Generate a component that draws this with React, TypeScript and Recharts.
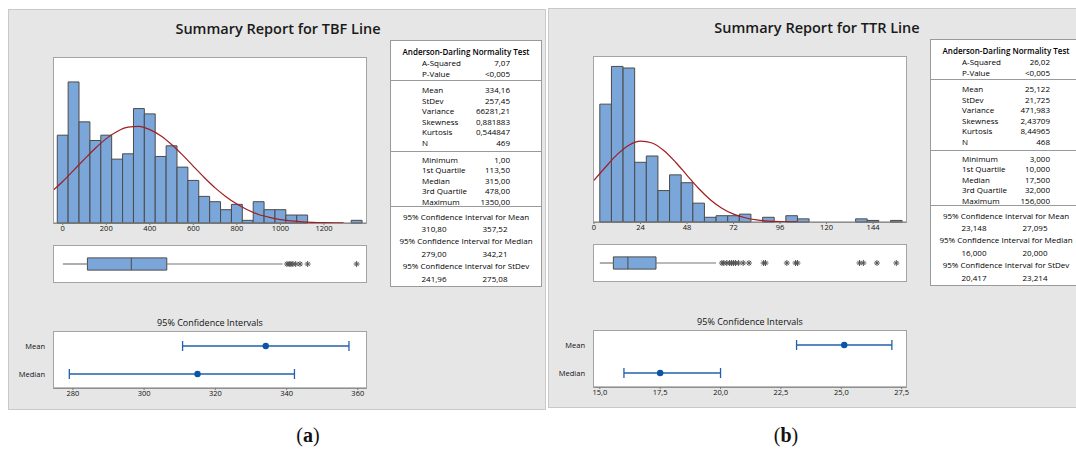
import {
  Bar,
  ComposedChart,
  ErrorBar,
  Line,
  LineChart,
  ReferenceArea,
  ReferenceLine,
  Scatter,
  XAxis,
  YAxis,
} from "recharts"

// ---- (a) TBF line ----
const tbfBins = [0, 50, 100, 150, 200, 250, 300, 350, 400, 450, 500, 550, 600, 650, 700, 750, 800, 850, 900, 950, 1000, 1050, 1100, 1150, 1200, 1250, 1300, 1350]
const tbfCounts = [33, 53, 38, 31, 33, 24, 26, 43, 41, 25, 29, 21, 16, 10, 8, 5, 7, 1, 8, 5, 5, 3, 3, 0, 0, 0, 0, 1]
const tbfCurveX = [-40, 0, 50, 100, 150, 200, 250, 300, 350, 400, 450, 500, 550, 600, 650, 700, 750, 800, 850, 900, 950, 1000, 1050, 1100, 1150, 1200, 1250, 1290]
const tbfCurveY = [12.6, 15.6, 19.8, 24.0, 28.1, 31.7, 34.4, 36.0, 36.3, 35.1, 32.8, 29.5, 25.6, 21.3, 17.1, 13.2, 9.9, 7.1, 4.9, 3.2, 2.1, 1.3, 0.8, 0.43, 0.24, 0.13, 0.06, 0.03]
const tbfTicks = [0, 200, 400, 600, 800, 1000, 1200]
const tbfBox = [1, 113.5, 315, 478, 1010] // whisker low, Q1, median, Q3, whisker high
const tbfOutliers = [1030, 1040, 1048, 1057, 1070, 1090, 1125, 1350]
const tbfCiCenter = [334.16, 315.0]
const tbfCiLow = [310.8, 279.0]
const tbfCiHigh = [357.52, 342.21]
const tbfCiTicks = [280, 300, 320, 340, 360]
const tbfCiTickLabels = ["280", "300", "320", "340", "360"]
const tbfAd = ["7,07", "<0,005"]
const tbfDesc = ["334,16", "257,45", "66281,21", "0,881883", "0,544847", "469"]
const tbfQuant = ["1,00", "113,50", "315,00", "478,00", "1350,00"]
const tbfCi = [["310,80", "357,52"], ["279,00", "342,21"], ["241,96", "275,08"]]

// ---- (b) TTR line ----
const ttrBins = [6, 12, 18, 24, 30, 36, 42, 48, 54, 60, 66, 72, 78, 84, 90, 96, 102, 108, 114, 120, 126, 132, 138, 144, 150, 156]
const ttrCounts = [75, 99, 98, 38, 42, 20, 30, 25, 12, 3, 4, 4, 5, 0, 3, 0, 4, 2, 0, 0, 0, 0, 2, 1, 0, 1]
const ttrCurveX = [0, 6, 12, 18, 24, 30, 36, 42, 48, 54, 60, 66, 72, 78, 84, 90, 96, 102, 105]
const ttrCurveY = [26.5, 35.0, 43.0, 48.9, 51.5, 50.3, 45.5, 38.2, 29.7, 21.3, 14.2, 8.8, 5.0, 2.7, 1.3, 0.6, 0.25, 0.1, 0.06]
const ttrTicks = [0, 24, 48, 72, 96, 120, 144]
const ttrBox = [3, 10, 17.5, 32, 63]
const ttrOutliers = [66, 67, 68.5, 70, 71, 72, 73, 74.5, 77, 80, 87.5, 88.5, 99.5, 104, 105, 137, 139, 146, 156]
const ttrCiCenter = [25.122, 17.5]
const ttrCiLow = [23.148, 16.0]
const ttrCiHigh = [27.095, 20.0]
const ttrCiTicks = [15, 17.5, 20, 22.5, 25, 27.5]
const ttrCiTickLabels = ["15,0", "17,5", "20,0", "22,5", "25,0", "27,5"]
const ttrAd = ["26,02", "<0,005"]
const ttrDesc = ["25,122", "21,725", "471,983", "2,43709", "8,44965", "468"]
const ttrQuant = ["3,000", "10,000", "17,500", "32,000", "156,000"]
const ttrCi = [["23,148", "27,095"], ["16,000", "20,000"], ["20,417", "23,214"]]

const ciNames = ["Mean", "Median"]
const adLabels = ["A-Squared", "P-Value"]
const descLabels = ["Mean", "StDev", "Variance", "Skewness", "Kurtosis", "N"]
const quantLabels = ["Minimum", "1st Quartile", "Median", "3rd Quartile", "Maximum"]
const ciTitles = [
  "95% Confidence Interval for Mean",
  "95% Confidence Interval for Median",
  "95% Confidence Interval for StDev",
]

const FONT = "'Open Sans', 'Noto Sans', sans-serif"
const BAR_FILL = "#7ba6da"
const BAR_STROKE = "#4b4b4b"
const FRAME = "#a4a4a4"
const PLOT_W = 312
const HIST_H = 165
const BOX_H = 36
const CI_H = 56
const CI_YW = 50
const PAD = 14 // room for edge tick labels

const tickStyle = { fontSize: 7.5, fill: "#111", fontFamily: FONT, fontWeight: 500 }

function Asterisk(props: any) {
  const { cx, cy } = props
  const r = 3
  const d = r * 0.7
  return (
    <g stroke="#555" strokeWidth={1}>
      <line x1={cx - r} y1={cy} x2={cx + r} y2={cy} />
      <line x1={cx} y1={cy - r} x2={cx} y2={cy + r} />
      <line x1={cx - d} y1={cy - d} x2={cx + d} y2={cy + d} />
      <line x1={cx - d} y1={cy + d} x2={cx + d} y2={cy - d} />
    </g>
  )
}

function CiDot(props: any) {
  return <circle cx={props.cx} cy={props.cy} r={3.2} fill="#0b55a5" />
}

const frameStyle = (left: number, top: number, w: number, h: number) => ({
  position: "absolute" as const,
  left: left - 1,
  top: top - 1,
  width: w,
  height: h,
  background: "#fff",
  border: `1px solid ${FRAME}`,
})

function Histogram({ cfg }: { cfg: any }) {
  const barData = cfg.bins.map((x: number, i: number) => ({ x, count: cfg.counts[i] }))
  const curveData = cfg.curveX.map((x: number, i: number) => ({ x, y: cfg.curveY[i] }))
  const barPx = (PLOT_W * cfg.binWidth) / (cfg.xDomain[1] - cfg.xDomain[0]) - 0.03
  const m = { top: 0, right: PAD, bottom: 0, left: PAD }
  return (
    <div style={{ position: "absolute", left: 45, top: 48 }}>
      <div style={frameStyle(0, 0, PLOT_W, HIST_H)} />
      <div style={{ position: "absolute", left: -PAD, top: 0 }}>
        <ComposedChart width={PLOT_W + 2 * PAD} height={HIST_H + 16} data={barData} margin={m}>
          <XAxis
            dataKey="x"
            type="number"
            domain={cfg.xDomain}
            ticks={cfg.xTicks}
            height={16}
            stroke="#7a7a7a"
            tickSize={2}
            tickMargin={1}
            tick={tickStyle}
            interval={0}
          />
          <YAxis hide domain={[0, cfg.yMax]} />
          <Bar dataKey="count" fill={BAR_FILL} stroke={BAR_STROKE} strokeWidth={1} barSize={barPx} isAnimationActive={false} />
        </ComposedChart>
      </div>
      <div style={{ position: "absolute", left: -PAD, top: 0 }}>
        <LineChart width={PLOT_W + 2 * PAD} height={HIST_H} data={curveData} margin={m}>
          <XAxis hide dataKey="x" type="number" domain={cfg.xDomain} />
          <YAxis hide domain={[0, cfg.yMax]} />
          <Line dataKey="y" type="monotone" stroke="#a01e22" strokeWidth={1.2} dot={false} isAnimationActive={false} />
        </LineChart>
      </div>
    </div>
  )
}

function BoxPlot({ cfg }: { cfg: any }) {
  const b = cfg.box
  const outlierData = cfg.outliers.map((x: number) => ({ x, y: 0.5 }))
  return (
    <div style={{ position: "absolute", left: 45, top: 236 }}>
      <div style={frameStyle(0, 0, PLOT_W, BOX_H)} />
      <div style={{ position: "absolute", left: 0, top: 0 }}>
        <ComposedChart width={PLOT_W} height={BOX_H} data={outlierData} margin={{ top: 0, right: 0, bottom: 0, left: 0 }}>
          <XAxis hide dataKey="x" type="number" domain={cfg.xDomain} />
          <YAxis hide dataKey="y" type="number" domain={[0, 1]} />
          <ReferenceLine segment={[{ x: b[0], y: 0.5 }, { x: b[1], y: 0.5 }]} stroke="#777" strokeWidth={1.2} />
          <ReferenceLine segment={[{ x: b[3], y: 0.5 }, { x: b[4], y: 0.5 }]} stroke="#777" strokeWidth={1.2} />
          <ReferenceArea x1={b[1]} x2={b[3]} y1={0.33} y2={0.67} fill={BAR_FILL} fillOpacity={1} stroke={BAR_STROKE} strokeWidth={1} />
          <ReferenceLine segment={[{ x: b[2], y: 0.33 }, { x: b[2], y: 0.67 }]} stroke={BAR_STROKE} strokeWidth={1} />
          <Scatter data={outlierData} dataKey="y" shape={Asterisk} isAnimationActive={false} />
        </ComposedChart>
      </div>
    </div>
  )
}

function CiChart({ cfg }: { cfg: any }) {
  // rows from top: Mean then Median, on a numeric 0..n axis
  const n = ciNames.length
  const data = ciNames.map((name, i) => ({
    name,
    row: n - i - 0.5,
    v: cfg.ciCenter[i],
    err: [cfg.ciCenter[i] - cfg.ciLow[i], cfg.ciHigh[i] - cfg.ciCenter[i]],
  }))
  const rowTicks = data.map((d) => d.row)
  return (
    <>
      <div
        style={{
          position: "absolute",
          left: 45,
          width: PLOT_W,
          top: 306,
          textAlign: "center",
          fontSize: 9,
          fontFamily: FONT,
          fontWeight: 500,
          color: "#111",
          lineHeight: "14px",
        }}
      >
        95% Confidence Intervals
      </div>
      <div style={{ position: "absolute", left: 45 - CI_YW, top: 322 }}>
        <div style={frameStyle(CI_YW, 0, PLOT_W, CI_H)} />
        <div style={{ position: "absolute", left: 0, top: 0 }}>
          <ComposedChart
            width={CI_YW + PLOT_W + PAD}
            height={CI_H + 16}
            data={data}
            margin={{ top: 0, right: PAD, bottom: 0, left: 0 }}
          >
            <XAxis
              dataKey="v"
              type="number"
              domain={cfg.ciDomain}
              ticks={cfg.ciTicks}
              tickFormatter={(v: number) => cfg.ciTickLabels[cfg.ciTicks.indexOf(v)]}
              height={16}
              stroke="#7a7a7a"
              tickSize={2}
              tickMargin={1}
              tick={tickStyle}
              interval={0}
              allowDataOverflow
            />
            <YAxis
              dataKey="row"
              type="number"
              domain={[0, n]}
              ticks={rowTicks}
              tickFormatter={(v: number) => data.find((d) => d.row === v)?.name ?? ""}
              width={CI_YW}
              axisLine={false}
              tickLine={false}
              tickMargin={3}
              tick={tickStyle}
              interval={0}
            />
            <Scatter dataKey="v" shape={CiDot} isAnimationActive={false}>
              <ErrorBar dataKey="err" direction="x" width={5} stroke="#2260ad" strokeWidth={1.3} />
            </Scatter>
          </ComposedChart>
        </div>
      </div>
    </>
  )
}

function StatsTable({ cfg }: { cfg: any }) {
  const text = {
    position: "absolute" as const,
    fontFamily: FONT,
    fontSize: 8,
    fontWeight: 500,
    color: "#000",
    lineHeight: "11px",
    whiteSpace: "nowrap" as const,
  }
  const row = (y: number, label: string, value: string, key: string) => (
    <div key={key}>
      <div style={{ ...text, left: 31, top: y - 5.5 }}>{label}</div>
      <div style={{ ...text, right: 31, top: y - 5.5, textAlign: "right" }}>{value}</div>
    </div>
  )
  const centered = (y: number, s: string, key: string, bold = false) => (
    <div key={key} style={{ ...text, left: 0, width: "100%", textAlign: "center", top: y - 5.5, fontWeight: bold ? 600 : 500 }}>
      {s}
    </div>
  )
  const sep = (y: number) => <div style={{ position: "absolute", left: 0, right: 0, top: y, height: 1, background: "#9a9a9a" }} />
  return (
    <div
      style={{
        position: "absolute",
        left: 381,
        top: 30,
        width: cfg.tableW,
        height: 247,
        background: "#fff",
        border: "1px solid #9a9a9a",
        boxSizing: "border-box",
      }}
    >
      {centered(10, "Anderson-Darling Normality Test", "hd", true)}
      {adLabels.map((l, i) => row(21.5 + i * 11, l, cfg.ad[i], "ad" + i))}
      {sep(39)}
      {descLabels.map((l, i) => row(48.5 + i * 10.6, l, cfg.desc[i], "ds" + i))}
      {sep(110)}
      {quantLabels.map((l, i) => row(118 + i * 10.6, l, cfg.quant[i], "q" + i))}
      {sep(165)}
      {ciTitles.map((t, i) => (
        <div key={"ci" + i}>
          {centered(175 + i * 24.8, t, "ct" + i)}
          <div style={{ ...text, left: 43 - 30, width: 60, textAlign: "center", top: 187.5 + i * 24.8 - 5.5 }}>{cfg.ci[i][0]}</div>
          <div style={{ ...text, left: 104 - 30, width: 60, textAlign: "center", top: 187.5 + i * 24.8 - 5.5 }}>{cfg.ci[i][1]}</div>
        </div>
      ))}
    </div>
  )
}

function SummaryPanel({ cfg }: { cfg: any }) {
  return (
    <div
      style={{
        position: "absolute",
        left: cfg.left,
        top: cfg.top,
        width: cfg.width,
        height: cfg.height,
        background: "#e6e6e6",
        border: "1px solid #c9c9c9",
        boxSizing: "border-box",
      }}
    >
      <div
        style={{
          position: "absolute",
          left: 0,
          width: cfg.titleW,
          top: 9,
          textAlign: "center",
          fontFamily: FONT,
          fontSize: 14.5,
          fontWeight: 600,
          color: "#1a1a1a",
          lineHeight: "20px",
        }}
      >
        {cfg.title}
      </div>
      <Histogram cfg={cfg} />
      <BoxPlot cfg={cfg} />
      <CiChart cfg={cfg} />
      <StatsTable cfg={cfg} />
    </div>
  )
}

const panelA = {
  left: 8, top: 9, width: 538, height: 401, titleW: 538, tableW: 152,
  title: "Summary Report for TBF Line",
  bins: tbfBins, counts: tbfCounts, binWidth: 50, curveX: tbfCurveX, curveY: tbfCurveY,
  xDomain: [-40, 1393], yMax: 62, xTicks: tbfTicks,
  box: tbfBox, outliers: tbfOutliers,
  ciCenter: tbfCiCenter, ciLow: tbfCiLow, ciHigh: tbfCiHigh,
  ciDomain: [274.7, 362.3], ciTicks: tbfCiTicks, ciTickLabels: tbfCiTickLabels,
  ad: tbfAd, desc: tbfDesc, quant: tbfQuant, ci: tbfCi,
}

const panelB = {
  left: 548, top: 8, width: 540, height: 400, titleW: 536, tableW: 152,
  title: "Summary Report for TTR Line",
  bins: ttrBins, counts: ttrCounts, binWidth: 6, curveX: ttrCurveX, curveY: ttrCurveY,
  xDomain: [0, 161], yMax: 105, xTicks: ttrTicks,
  box: ttrBox, outliers: ttrOutliers,
  ciCenter: ttrCiCenter, ciLow: ttrCiLow, ciHigh: ttrCiHigh,
  ciDomain: [14.76, 27.68], ciTicks: ttrCiTicks, ciTickLabels: ttrCiTickLabels,
  ad: ttrAd, desc: ttrDesc, quant: ttrQuant, ci: ttrCi,
}

const captionStyle = {
  position: "absolute" as const,
  top: 422,
  width: 40,
  textAlign: "center" as const,
  fontFamily: "'Liberation Serif', 'DejaVu Serif', serif",
  fontSize: 20,
  lineHeight: "26px",
  color: "#111",
}

export default function App() {
  return (
    <div style={{ position: "absolute", left: 0, top: 0, width: 1076, height: 451, background: "#fff", overflow: "hidden" }}>
      <SummaryPanel cfg={panelA} />
      <SummaryPanel cfg={panelB} />
      <div style={{ ...captionStyle, left: 288 }}>
        (<b>a</b>)
      </div>
      <div style={{ ...captionStyle, left: 766 }}>
        (<b>b</b>)
      </div>
    </div>
  )
}
